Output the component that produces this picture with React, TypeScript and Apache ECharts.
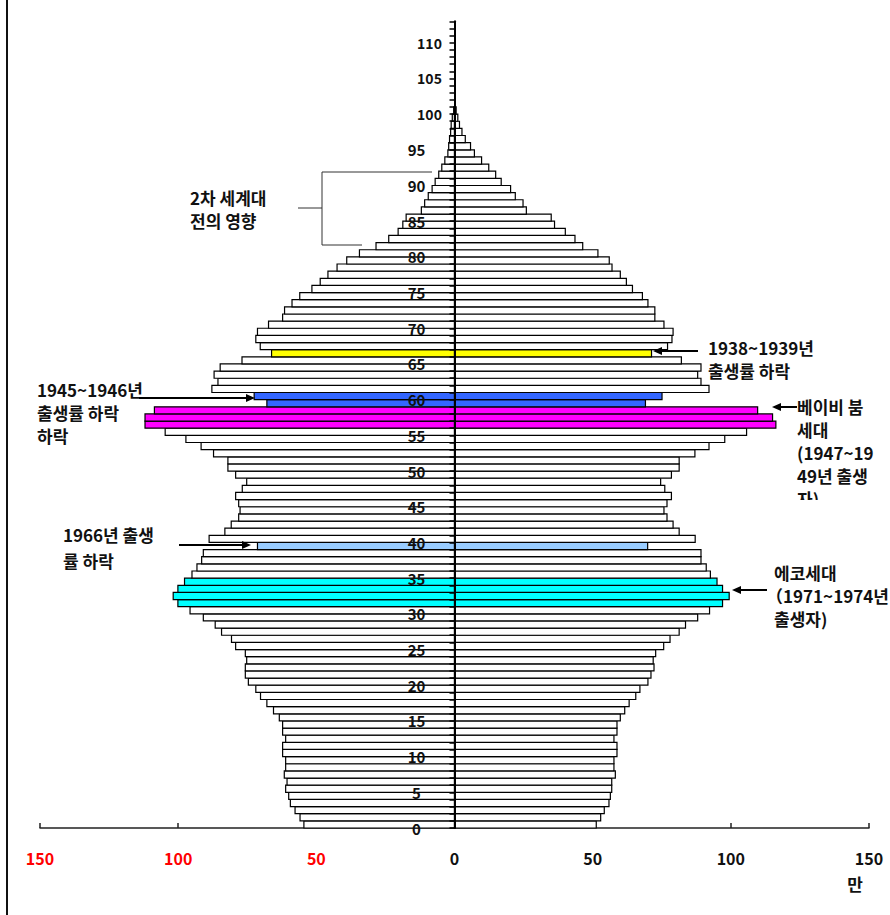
import React, { useEffect, useRef } from "react";
import * as echarts from "echarts";

// ages 0..100
const ages: number[] = Array.from({ length: 101 }, (_, i) => i);

// male population (만), ages 0..100 (left side)
const male: number[] = [
  54.5, 55.9, 57.7, 59.4, 60.0, 61.1, 60.6, 61.6, 61.1, 61.1,
  62.2, 62.2, 61.1, 62.2, 62.2, 63.4, 65.5, 67.9, 70.2, 71.9,
  74.6, 75.7, 75.7, 75.2, 75.7, 79.2, 80.7, 84.3, 86.6, 90.9,
  95.7, 100.1, 101.8, 100.1, 97.7, 95.0, 93.2, 91.5, 90.9, 71.3,
  88.8, 83.1, 80.8, 78.1, 77.6, 78.1, 79.2, 76.8, 75.2, 79.2,
  82.0, 82.0, 87.2, 91.7, 97.2, 104.7, 112.0, 112.0, 108.6, 67.9,
  72.5, 87.8, 85.6, 87.0, 84.8, 76.9, 66.2, 70.3, 71.9, 71.3,
  67.3, 62.2, 61.5, 58.8, 56.0, 51.6, 48.6, 45.8, 42.5, 39.0,
  34.4, 28.4, 23.8, 20.4, 18.7, 17.5, 12.0, 10.8, 9.5, 8.1,
  7.0, 5.7, 4.6, 3.5, 2.4, 2.1, 1.8, 1.4, 1.2, 0.8,
  0.3,
];

// female population (만), ages 0..100 (right side)
const female: number[] = [
  51.3, 52.9, 54.2, 55.9, 56.4, 56.9, 56.9, 58.2, 57.7, 57.7,
  58.8, 58.8, 57.7, 58.8, 58.8, 60.0, 61.6, 63.2, 65.6, 67.1,
  70.0, 71.1, 72.2, 71.9, 72.8, 75.7, 78.0, 81.3, 83.6, 88.0,
  92.3, 97.0, 99.4, 97.0, 95.0, 92.6, 91.1, 89.2, 89.2, 69.9,
  87.1, 81.3, 79.1, 76.9, 75.8, 76.9, 78.5, 76.1, 74.6, 78.5,
  81.3, 81.3, 87.0, 92.1, 97.8, 105.7, 116.3, 115.1, 109.7, 69.1,
  75.1, 92.1, 89.2, 88.0, 89.2, 82.1, 71.3, 77.1, 78.7, 79.1,
  75.8, 72.5, 72.5, 70.0, 68.0, 64.4, 62.2, 60.0, 57.0, 56.0,
  51.9, 46.4, 43.6, 40.1, 36.2, 35.0, 26.0, 24.8, 22.0, 20.3,
  16.9, 14.9, 12.4, 9.8, 7.2, 5.8, 3.9, 2.7, 1.8, 1.2,
  0.6,
];

// highlighted cohorts
const yellowAges = [66];
const blueAges = [59, 60];
const magentaAges = [56, 57, 58];
const lightBlueAges = [39];
const cyanAges = [31, 32, 33, 34];

const FONT = '"Noto Sans CJK KR", "Noto Sans", sans-serif';

function colorFor(age: number): string {
  if (yellowAges.includes(age)) return "#FFFF00";
  if (blueAges.includes(age)) return "#3366FF";
  if (magentaAges.includes(age)) return "#FF00FF";
  if (lightBlueAges.includes(age)) return "#99CCFF";
  if (cyanAges.includes(age)) return "#00FFFF";
  return "#FFFFFF";
}

function txt(text: string, x: number, y: number, extra: any = {}) {
  return {
    type: "text",
    x,
    y,
    z: 50,
    style: {
      text,
      fill: "#111",
      fontSize: 17,
      lineHeight: 20,
      fontWeight: "bold",
      fontFamily: FONT,
      align: "left",
      verticalAlign: "middle",
      ...extra,
    },
  };
}

// multi-line block: firstCenter is the vertical centre of the first line
function block(lines: string[], x: number, firstCenter: number, lh: number) {
  return txt(lines.join("\n"), x, firstCenter - lh / 2, {
    lineHeight: lh,
    verticalAlign: "top",
  });
}

function arrow(x1: number, tipX: number, y: number) {
  const dir = tipX > x1 ? 1 : -1;
  const headLen = 9;
  const headHalf = 4;
  return [
    {
      type: "line",
      z: 50,
      shape: { x1, y1: y, x2: tipX - dir * headLen * 0.6, y2: y },
      style: { stroke: "#000", lineWidth: 2 },
    },
    {
      type: "polygon",
      z: 50,
      shape: {
        points: [
          [tipX, y],
          [tipX - dir * headLen, y - headHalf],
          [tipX - dir * headLen, y + headHalf],
        ],
      },
      style: { fill: "#000" },
    },
  ];
}

function line(x1: number, y1: number, x2: number, y2: number, w = 1) {
  return {
    type: "line",
    z: 50,
    shape: { x1, y1, x2, y2 },
    style: { stroke: "#333", lineWidth: w },
  };
}

const GRID_LEFT = 40;
const GRID_RIGHT = 21;
const GRID_WIDTH = 890 - GRID_LEFT - GRID_RIGHT;

export default function App() {
  const ref = useRef<HTMLDivElement>(null);

  useEffect(() => {
    document.body.style.margin = "0";
    if (!ref.current) return;
    const chart = echarts.init(ref.current, undefined, { renderer: "svg" });

    const renderItem = (params: any, api: any) => {
      const v = api.value(0);
      const age = api.value(1);
      const p0 = api.coord([0, age]);
      const p1 = api.coord([v, age + 1]);
      return {
        type: "rect",
        shape: {
          x: Math.min(p0[0], p1[0]),
          y: p1[1],
          width: Math.abs(p1[0] - p0[0]),
          height: p0[1] - p1[1],
        },
        style: { fill: colorFor(age), stroke: "#000", lineWidth: 1.2 },
      };
    };

    const graphics: any[] = [
      {
        type: "line",
        z: 50,
        shape: { x1: 7, y1: 0, x2: 7, y2: 915 },
        style: { stroke: "#111", lineWidth: 2 },
      },
      // WWII bracket
      line(322, 172, 432, 172),
      line(322, 172, 322, 245),
      line(322, 245, 362, 245),
      line(298, 208, 322, 208),
      block(["2차 세계대", "전의 영향"], 190, 197, 23),
      // 1945~1946
      block(["1945~1946년", "출생률 하락", "하락"], 37, 389, 23),
      ...arrow(139, 255, 398),
      // 1966
      txt("1966년 출생", 63, 534),
      txt("률 하락", 63, 560),
      ...arrow(179, 251, 545),
      // 1938~1939
      txt("1938~1939년", 708, 347),
      txt("출생률 하락", 708, 370),
      ...arrow(698, 653, 351),
      // baby boom
      block(["베이비 붐", "세대", "(1947~19", "49년 출생", "자)"], 797, 406, 23),
      {
        type: "rect",
        z: 60,
        shape: { x: 785, y: 500, width: 80, height: 20 },
        style: { fill: "#fff" },
      },
      ...arrow(797, 772, 407),
      // echo
      txt("에코세대", 774, 572),
      txt("（1971~1974년", 766, 595),
      txt("출생자)", 774, 618),
      ...arrow(767, 732, 590),
      // unit
      txt("만", 855, 883, { align: "center" }),
    ];

    chart.setOption({
      animation: false,
      backgroundColor: "#fff",
      grid: {
        left: GRID_LEFT,
        right: GRID_RIGHT,
        top: 21.3,
        bottom: 87,
        containLabel: false,
        outerBoundsMode: "none",
      },
      xAxis: {
        type: "value",
        min: -150,
        max: 150,
        interval: 50,
        axisLine: { onZero: false, lineStyle: { color: "#222", width: 1.5 } },
        axisTick: { inside: true, length: 5, lineStyle: { color: "#222", width: 1.5 } },
        splitLine: { show: false },
        axisLabel: {
          margin: 22,
          fontSize: 16,
          fontWeight: "bold",
          fontFamily: FONT,
          formatter: (v: number) => String(Math.abs(v)),
          color: (v: any) => (Number(v) < 0 ? "#FF0000" : "#111"),
        },
      },
      yAxis: {
        type: "value",
        min: 0,
        max: 113,
        interval: 1,
        z: 10,
        offset: -GRID_WIDTH / 2,
        axisLine: { onZero: false, lineStyle: { color: "#000", width: 2 } },
        axisTick: { length: 5, lineStyle: { color: "#000", width: 1.5 } },
        splitLine: { show: false },
        axisLabel: {
          align: "center",
          margin: 38,
          fontSize: 15,
          fontWeight: "bold",
          fontFamily: FONT,
          color: "#111",
          formatter: (v: number) =>
            v % 5 === 0 ? (v >= 100 ? `{b|${v}}` : String(v)) : "",
          rich: {
            b: {
              padding: [0, 0, 0, 26],
              fontSize: 14,
              fontWeight: "bold",
              fontFamily: FONT,
              color: "#111",
            },
          },
        },
      },
      series: [
        {
          name: "남",
          type: "custom",
          renderItem,
          encode: { x: 0, y: 1 },
          data: ages.map((a) => [-male[a], a]),
          z: 2,
        },
        {
          name: "여",
          type: "custom",
          renderItem,
          encode: { x: 0, y: 1 },
          data: ages.map((a) => [female[a], a]),
          z: 2,
        },
      ],
      graphic: graphics,
    });

    return () => chart.dispose();
  }, []);

  return <div ref={ref} style={{ width: 890, height: 915 }} />;
}
